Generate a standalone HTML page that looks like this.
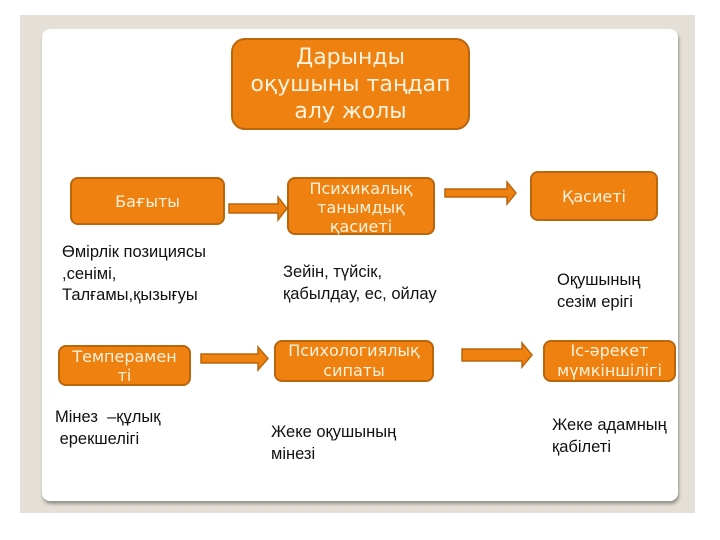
<!DOCTYPE html>
<html><head><meta charset="utf-8"><style>
html,body{margin:0;padding:0;}
body{width:720px;height:540px;background:#fff;position:relative;overflow:hidden;font-family:"Liberation Sans",sans-serif;}
.bg{position:absolute;left:20px;top:15px;width:675px;height:498px;background:#e4e0d8;}
.card{position:absolute;left:42px;top:29px;width:636px;height:472px;background:#fff;border-radius:8px;box-shadow:1px 3px 3px rgba(0,0,0,0.35);}
.box{position:absolute;box-sizing:border-box;background:#ef8110;border:2px solid #b9660c;border-radius:8px;color:#fff3dd;font-family:"DejaVu Sans",sans-serif;text-align:center;display:flex;align-items:center;justify-content:center;white-space:nowrap;}
.t{position:absolute;font-size:16.5px;line-height:21.5px;color:#111;white-space:nowrap;font-family:"Liberation Sans","Noto Sans CJK SC",sans-serif;}
svg{position:absolute;left:0;top:0;}
</style></head><body>
<div class="bg"></div>
<div class="card"></div>
<div class="box" style="left:231px;top:38px;width:239px;height:92px;font-size:22px;line-height:27px;border-radius:14px;">Дарынды<br>оқушыны таңдап<br>алу жолы</div>
<div class="box" style="left:70px;top:177px;width:155px;height:48px;font-size:16px;">Бағыты</div>
<div class="box" style="left:287px;top:177px;width:148px;height:58px;font-size:16px;line-height:19px;padding-top:2px;">Психикалық<br>танымдық<br>қасиеті</div>
<div class="box" style="left:530px;top:171px;width:128px;height:50px;font-size:16px;">Қасиеті</div>
<div class="box" style="left:58px;top:345px;width:133px;height:41px;font-size:16px;line-height:19px;">Темперамен<br>ті</div>
<div class="box" style="left:274px;top:340px;width:160px;height:42px;font-size:16px;line-height:20px;">Психологиялық<br>сипаты</div>
<div class="box" style="left:543px;top:340px;width:133px;height:42px;font-size:16px;line-height:20px;">Іс-әрекет<br>мүмкіншілігі</div>
<svg width="720" height="540">
<g fill="#ef8110" stroke="#b9660c" stroke-width="1.5">
<polygon points="229,204 278,204 278,197 287,208.5 278,220 278,213 229,213"/>
<polygon points="445,189 507,189 507,182 516,193 507,204 507,197 445,197"/>
<polygon points="201,354 258,354 258,347 268,358.5 258,370 258,363 201,363"/>
<polygon points="462,349 522,349 522,343 532,355 522,367 522,361 462,361"/>
</g></svg>
<div class="t" style="left:62px;top:242px;">Өмірлік позициясы<br>,сенімі,<br>Талғамы,қызығуы</div>
<div class="t" style="left:283px;top:262px;">Зейін, түйсік,<br>қабылдау, ес, ойлау</div>
<div class="t" style="left:557px;top:270px;">Оқушының<br>сезім ерігі</div>
<div class="t" style="left:55px;top:407px;">Мінез &nbsp;–құлық<br>&nbsp;ерекшелігі</div>
<div class="t" style="left:271px;top:422px;">Жеке оқушының<br>мінезі</div>
<div class="t" style="left:552px;top:415px;">Жеке адамның<br>қабілеті</div>
</body></html>
